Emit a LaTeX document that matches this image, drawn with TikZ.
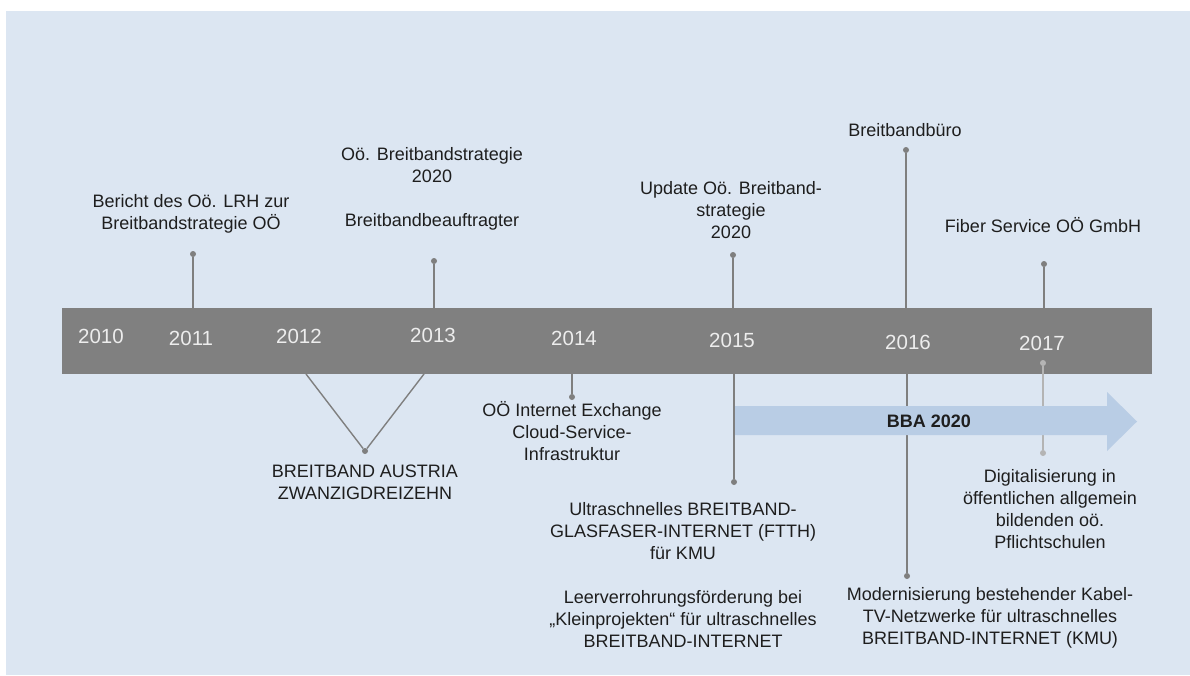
\documentclass[tikz,border=0pt]{standalone}
\usepackage{fontspec}
\setmainfont{Liberation Sans}
\definecolor{bgc}{HTML}{DCE6F2}
\definecolor{barc}{HTML}{808080}
\definecolor{arrowc}{HTML}{B9CDE5}
\definecolor{linec}{HTML}{7F7F7F}
\definecolor{lightc}{HTML}{B4B4B4}
\definecolor{yearc}{HTML}{EDEDED}
\definecolor{txtc}{HTML}{1E1E1E}
\begin{document}
\begin{tikzpicture}[x=1pt,y=-1pt,
  lbl/.style={align=center, font=\fontsize{18}{22}\selectfont, text=txtc, inner sep=0pt},
  yr/.style={anchor=base, font=\fontsize{20.5}{24}\selectfont, text=yearc, inner sep=0pt},
  dot/.style={circle, fill=linec, minimum size=6pt, inner sep=0pt},
  ldot/.style={circle, fill=lightc, minimum size=6pt, inner sep=0pt},
  conn/.style={draw=linec, line width=1.4pt},
  lconn/.style={draw=lightc, line width=1.4pt}]
\useasboundingbox (0,0) rectangle (1190,675);
\fill[white] (0,0) rectangle (1190,675);
\fill[bgc] (6,11) rectangle (1190,675);
% timeline bar
\node[fill=barc, anchor=north west, minimum width=1090pt, minimum height=66pt, inner sep=0pt] (bar) at (62,308) {};
% years
\node[yr] (y2010) at (101,343.5) {2010};
\node[yr] (y2011) at (191,345.5) {2011};
\node[yr] (y2012) at (299,343.5) {2012};
\node[yr] (y2013) at (433,342.5) {2013};
\node[yr] (y2014) at (574,345.5) {2014};
\node[yr] (y2015) at (732,347.5) {2015};
\node[yr] (y2016) at (908,349.5) {2016};
\node[yr] (y2017) at (1042,350.5) {2017};
% dots
\node[dot] (d2011) at (193,254) {};
\node[dot] (d2013) at (434,261) {};
\node[dot] (dV) at (365,451) {};
\node[dot] (d2014) at (572,397) {};
\node[dot] (d2015u) at (733,255) {};
\node[dot] (d2015d) at (734,482) {};
\node[dot] (d2016u) at (906,150) {};
\node[dot] (d2016d) at (907,576) {};
\node[dot] (d2017u) at (1044,264) {};
\node[ldot] (d2017a) at (1043,363) {};
\node[ldot] (d2017b) at (1043,453) {};
\coordinate (vL) at (306,374);
\coordinate (vR) at (424,374);
% connectors
\draw[conn] (d2011) -- (d2011 |- bar.north);
\draw[conn] (d2013) -- (d2013 |- bar.north);
\draw[conn] (vL) -- (dV) -- (vR);
\draw[conn] (d2014 |- bar.south) -- (d2014);
\draw[conn] (d2015u) -- (d2015u |- bar.north);
\draw[conn] (d2016u) -- (d2016u |- bar.north);
\draw[conn] (d2016d |- bar.south) -- (d2016d);
\draw[conn] (d2017u) -- (d2017u |- bar.north);
\draw[lconn] (d2017a) -- (d2017b);
% arrow
\fill[arrowc] (733,406) -- (1107,406) -- (1107,392) -- (1137,421.5) -- (1107,451) -- (1107,435) -- (733,435) -- cycle;
\node[font=\fontsize{18}{22}\selectfont\bfseries, text=txtc, inner sep=0pt] (bba) at (929,421) {BBA 2020};
\draw[conn] (d2015d |- bar.south) -- (d2015d);
% labels
\node[lbl] (l2011) at (191,214.5) {\strut Bericht des Oö. LRH zur\\Breitbandstrategie OÖ\strut};
\node[lbl] (l2013) at (432,189.5) {\strut Oö. Breitbandstrategie\\2020\\[22pt]Breitbandbeauftragter\strut};
\node[lbl] (lV) at (365,484.5) {\strut BREITBAND AUSTRIA\\ZWANZIGDREIZEHN\strut};
\node[lbl] (l2014) at (572,434) {\strut OÖ Internet Exchange\\Cloud-Service-\\Infrastruktur\strut};
\node[lbl] (l2015u) at (731,212.5) {\strut Update Oö. Breitband-\\strategie\\2020\strut};
\node[lbl] (l2015a) at (683,533) {\strut Ultraschnelles BREITBAND-\\GLASFASER-INTERNET (FTTH)\\für KMU\strut};
\node[lbl] (l2015b) at (683,621) {\strut Leerverrohrungsförderung bei\\„Kleinprojekten“ für ultraschnelles\\BREITBAND-INTERNET\strut};
\node[lbl] (l2016u) at (905,132) {\strut Breitbandbüro};
\node[lbl] (l2016d) at (990,618) {\strut Modernisierung bestehender Kabel-\\TV-Netzwerke für ultraschnelles\\BREITBAND-INTERNET (KMU)\strut};
\node[lbl] (l2017u) at (1043,228) {\strut Fiber Service OÖ GmbH};
\node[lbl] (l2017d) at (1050,511) {\strut Digitalisierung in\\öffentlichen allgemein\\bildenden oö.\\Pflichtschulen\strut};
\end{tikzpicture}
\end{document}
